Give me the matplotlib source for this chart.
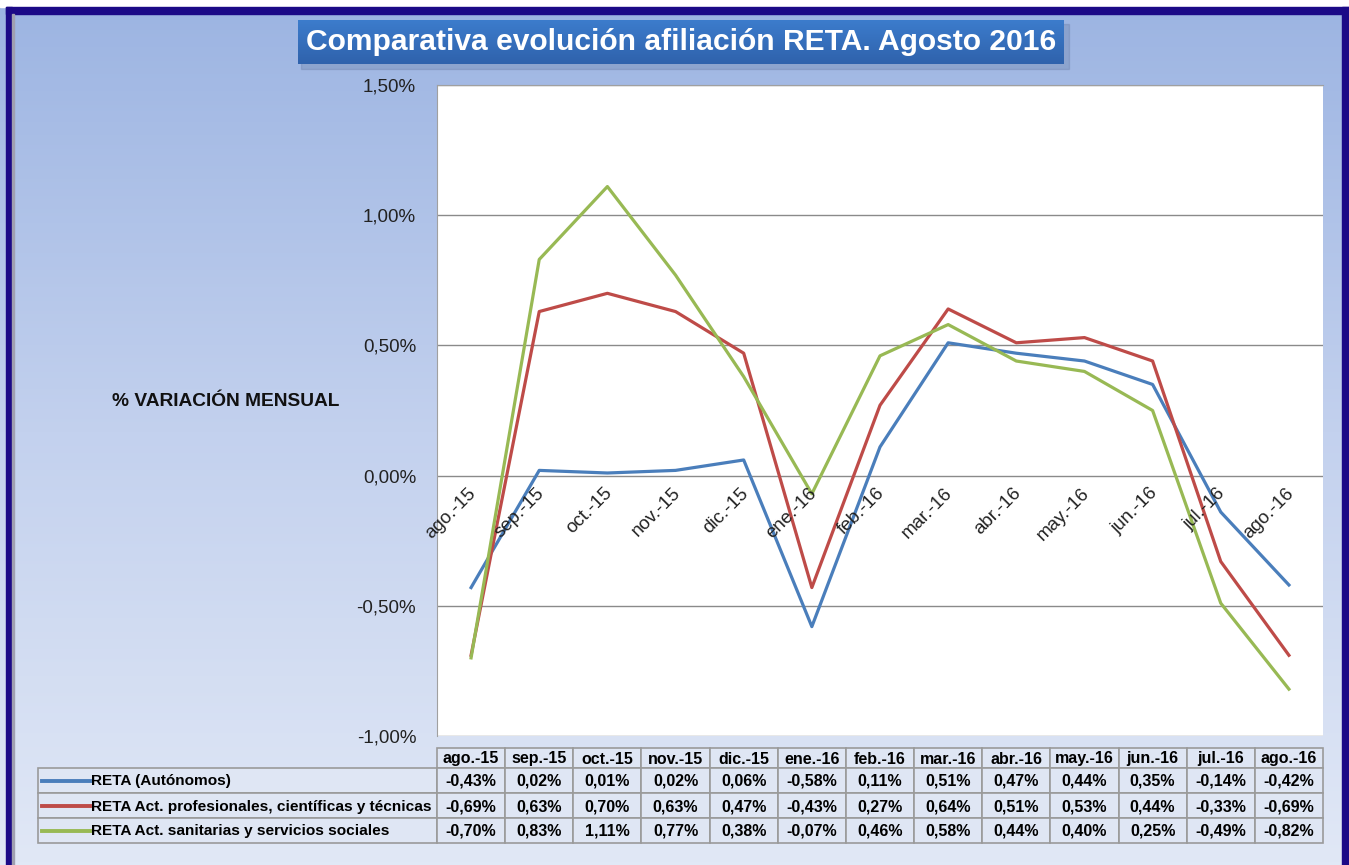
import numpy as np
import matplotlib
matplotlib.use("Agg")
import matplotlib.pyplot as plt
import matplotlib.transforms as mtransforms
from matplotlib.patches import Rectangle
from matplotlib.colors import LinearSegmentedColormap
from matplotlib.ticker import FuncFormatter

W, H = 1349, 865

MONTHS = ["ago.-15", "sep.-15", "oct.-15", "nov.-15", "dic.-15", "ene.-16", "feb.-16",
          "mar.-16", "abr.-16", "may.-16", "jun.-16", "jul.-16", "ago.-16"]
RETA_TOTAL = [-0.43, 0.02, 0.01, 0.02, 0.06, -0.58, 0.11, 0.51, 0.47, 0.44, 0.35, -0.14, -0.42]
RETA_PROF = [-0.69, 0.63, 0.70, 0.63, 0.47, -0.43, 0.27, 0.64, 0.51, 0.53, 0.44, -0.33, -0.69]
RETA_SANIT = [-0.70, 0.83, 1.11, 0.77, 0.38, -0.07, 0.46, 0.58, 0.44, 0.40, 0.25, -0.49, -0.82]
SERIES_NAMES = ["RETA (Autónomos)",
                "RETA Act. profesionales, científicas y técnicas",
                "RETA Act. sanitarias y servicios sociales"]
YTICKS = [-1.0, -0.5, 0.0, 0.5, 1.0, 1.5]

COLORS = ["#4a7ebb", "#be4b48", "#98b954"]
plt.rcParams["font.family"] = ["Liberation Sans", "DejaVu Sans"]


def pct(v):
    return f"{v:.2f}%".replace(".", ",")


def box(x0, y0, x1, y1):
    """pixel box (top-left origin) -> figure fraction rect"""
    return [x0 / W, 1 - y1 / H, (x1 - x0) / W, (y1 - y0) / H]


fig = plt.figure(figsize=(W / 100, H / 100), dpi=100)

# ── background, border, title ──────────────────────────────────────
bg = fig.add_axes([0, 0, 1, 1], zorder=0)
bg.set_xlim(0, W)
bg.set_ylim(H, 0)
bg.axis("off")
grad = LinearSegmentedColormap.from_list("bg", ["#9cb4e2", "#c3d1ee", "#e1e8f6"])
bg.imshow(np.linspace(0, 1, 256).reshape(-1, 1), cmap=grad, aspect="auto",
          extent=(0, W, H, 0), zorder=0)
bg.add_patch(Rectangle((0, 0), W, 7, color="white", zorder=1))
bg.add_patch(Rectangle((6, 7), W - 6, 7, color="#1c0a87", zorder=1))
bg.add_patch(Rectangle((6, 7), 6, H, color="#1c0a87", zorder=1))
bg.add_patch(Rectangle((1342, 7), 7, H, color="#1c0a87", zorder=1))
bg.add_patch(Rectangle((12, 14), 1.5, H, color="#a0a0b0", zorder=1))

bg.add_patch(Rectangle((301, 24), 768, 45, color="#6a7fa8", alpha=0.35, zorder=1))
tgrad = LinearSegmentedColormap.from_list("t", ["#3c7ccc", "#2f62ac"])
bg.imshow(np.linspace(0, 1, 64).reshape(-1, 1), cmap=tgrad, aspect="auto",
          extent=(298, 1064, 64, 20), zorder=2)
bg.text(681, 42, "Comparativa evolución afiliación RETA. Agosto 2016", color="white",
        fontsize=21.6, fontweight="bold", ha="center", va="center", zorder=3)

bg.text(226, 401, "% VARIACIÓN MENSUAL", fontsize=13.8, fontweight="bold",
        ha="center", va="center", color="#111111")

# ── line chart ─────────────────────────────────────────────────────
ax = fig.add_axes(box(437, 85, 1323, 736), zorder=2)
x = np.arange(len(MONTHS))
for vals, c in zip([RETA_TOTAL, RETA_PROF, RETA_SANIT], COLORS):
    ax.plot(x, vals, color=c, linewidth=2.3, solid_joinstyle="round", zorder=3)

ax.set_xlim(-0.5, len(MONTHS) - 0.5)
ax.set_ylim(-1.0, 1.5)
ax.set_yticks(YTICKS)
ax.yaxis.set_major_formatter(FuncFormatter(lambda v, p: pct(v)))
ax.tick_params(axis="y", length=0, pad=15, labelsize=13.5, labelcolor="#222222")
ax.set_xticks([])
ax.grid(axis="y", color="#8a8a8a", linewidth=1)
ax.set_axisbelow(True)
for s in ["right", "bottom"]:
    ax.spines[s].set_visible(False)
for s in ["left", "top"]:
    ax.spines[s].set_color("#a0a0a0")

lab_tr = mtransforms.offset_copy(ax.transData, fig=fig, x=-4, y=-9, units="dots")
for i, m in enumerate(MONTHS):
    ax.text(i, 0, m, transform=lab_tr, rotation=45, rotation_mode="anchor",
            ha="right", va="top", fontsize=13.5, color="#222222", zorder=4)

# ── data table ─────────────────────────────────────────────────────
x_left, x0, x1 = 38, 437, 1323
cw = (x1 - x0) / len(MONTHS)
row_y = [748, 768, 793, 818, 843]
edge = "#9a9a9a"
cell = "#dfe6f4"
for i, m in enumerate(MONTHS):
    cx = x0 + i * cw
    bg.add_patch(Rectangle((cx, row_y[0]), cw, row_y[1] - row_y[0], facecolor=cell,
                           edgecolor=edge, linewidth=1.2, zorder=3))
    bg.text(cx + cw / 2, (row_y[0] + row_y[1]) / 2 + 1, m, ha="center", va="center",
            fontsize=11.5, fontweight="bold", zorder=4)

for r, (name, vals, c) in enumerate(zip(SERIES_NAMES, [RETA_TOTAL, RETA_PROF, RETA_SANIT], COLORS)):
    ya, yb = row_y[r + 1], row_y[r + 2]
    ym = (ya + yb) / 2 + 1
    bg.add_patch(Rectangle((x_left, ya), x0 - x_left, yb - ya, facecolor=cell,
                           edgecolor=edge, linewidth=1.2, zorder=3))
    bg.plot([42, 90], [ym - 1, ym - 1], color=c, linewidth=2.8, zorder=4)
    bg.text(91, ym, name, ha="left", va="center", fontsize=11.1, fontweight="bold",
            zorder=4)
    for i, v in enumerate(vals):
        cx = x0 + i * cw
        bg.add_patch(Rectangle((cx, ya), cw, yb - ya, facecolor=cell,
                               edgecolor=edge, linewidth=1.2, zorder=3))
        bg.text(cx + cw / 2, ym, pct(v), ha="center", va="center", fontsize=11.5,
                fontweight="bold", zorder=4)

fig.savefig("out.png", dpi=100)
